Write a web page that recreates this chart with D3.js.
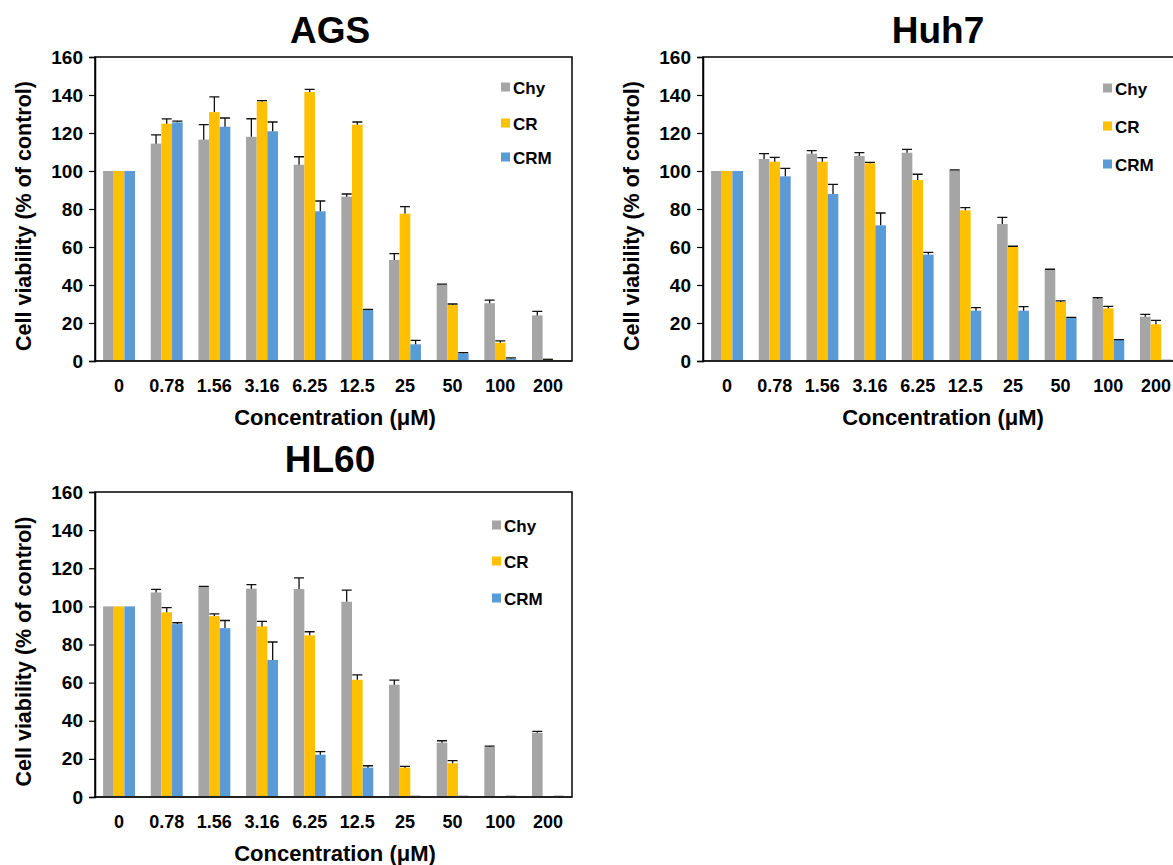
<!DOCTYPE html>
<meta charset="utf-8">
<style>
body { margin: 0; background: #fff; }
text { font-family: "Liberation Sans", Arial, sans-serif; font-weight: bold; fill: #000; }
</style>
<svg id="fig" width="1173" height="865"></svg>
<script src="https://cdnjs.cloudflare.com/ajax/libs/d3/7.8.5/d3.min.js"></script>
<script>

var concentrations = ["0","0.78","1.56","3.16","6.25","12.5","25","50","100","200"];
var seriesNames = ["Chy","CR","CRM"];
var seriesColors = ["#A5A5A5","#FFC000","#5B9BD5"];
var yTicks = [0,20,40,60,80,100,120,140,160];

// AGS
var agsChy    = [100,114.4,116.5,118,103.3,86.5,53.2,40.2,30.4,24];
var agsChyErr = [0,4.6,7.9,9.5,4.2,1.4,3.3,0.3,1.6,2.1];
var agsCR     = [100,124.9,131,136.5,141.6,124.4,77.5,29.5,9.6,0.9];
var agsCRErr  = [0,2.5,8,0.5,1.4,1.4,3.7,0.5,1,0];
var agsCRM    = [100,125.6,123.3,120.9,78.8,27,8.8,4,1.2,0];
var agsCRMErr = [0,0.7,4.6,4.9,5.4,0.2,2.1,0.4,0.4,0];

// Huh7
var huhChy    = [100,106.3,109.1,107.9,109.6,100.4,72.1,48.1,32.6,23.3];
var huhChyErr = [0,2.8,1.6,1.8,1.8,0.2,3.5,0.2,0.7,1.2];
var huhCR     = [100,104.9,104.9,104,95.3,79.3,60,31.1,27.7,19.3];
var huhCRErr  = [0,2.3,2.1,0.5,3,1.4,0.4,0.5,1,2.1];
var huhCRM    = [100,97.2,87.9,71.4,56,26.5,26.5,22.8,11.1,0.3];
var huhCRMErr = [0,4.2,5.1,6.5,1.2,1.6,2.1,0.2,0.2,0];

// HL60
var hlChy    = [100,107.3,110.3,109.3,109.1,102.4,58.9,28.5,26.2,33.7];
var hlChyErr = [0,1.6,0.2,2.1,5.9,6.1,2.4,1,0.5,0.7];
var hlCR     = [100,96.9,94.9,89.5,84.8,61.5,15.4,17.7,0,0];
var hlCRErr  = [0,2.4,1.2,2.6,1.9,2.6,0.7,1.4,0,0];
var hlCRM    = [100,90.7,88.6,71.9,22.2,15.4,0.3,0.3,0.3,0.3];
var hlCRMErr = [0,0.7,4,9.4,1.6,1,0,0,0,0];

var svg = d3.select("#fig");

var panels = [
  {title:"AGS",  x0:95,  y0:57,  w:477, h:304, titleY:43, legX:501, legY:[87,123,157],
   vals:[agsChy,agsCR,agsCRM], errs:[agsChyErr,agsCRErr,agsCRMErr]},
  {title:"Huh7", x0:703, y0:57,  w:477, h:304, titleY:43, legX:1103, legY:[88,126,164],
   vals:[huhChy,huhCR,huhCRM], errs:[huhChyErr,huhCRErr,huhCRMErr]},
  {title:"HL60", x0:95,  y0:492, w:477, h:305, titleY:472, legX:492, legY:[525,561,598],
   vals:[hlChy,hlCR,hlCRM], errs:[hlChyErr,hlCRErr,hlCRMErr]}
];

panels.forEach(function(p){
  var x = d3.scaleBand()
    .domain(concentrations)
    .range([p.x0, p.x0+p.w])
    .paddingInner(0.33)
    .paddingOuter(0.17);
  var xs = d3.scaleBand()
    .domain(seriesNames)
    .range([0, x.bandwidth()]);
  var y = d3.scaleLinear()
    .domain([0,160])
    .range([p.y0+p.h, p.y0]);

  var g = svg.append("g");

  // frame
  g.append("rect")
    .attr("x",p.x0).attr("y",p.y0)
    .attr("width",p.w).attr("height",p.h)
    .attr("fill","none").attr("stroke","#000").attr("stroke-width",1.5);

  // title
  g.append("text")
    .attr("x",p.x0+235).attr("y",p.titleY)
    .attr("text-anchor","middle")
    .style("font-size","37px")
    .text(p.title);

  // bars + error bars
  seriesNames.forEach(function(s,si){
    var rows = concentrations.map(function(c,i){
      return {c:c, v:p.vals[si][i], e:p.errs[si][i]};
    });
    g.selectAll(".bar"+si)
      .data(rows)
      .enter().append("rect")
      .attr("x",function(d){ return x(d.c)+xs(s); })
      .attr("y",function(d){ return y(d.v); })
      .attr("width",xs.bandwidth())
      .attr("height",function(d){ return y(0)-y(d.v); })
      .attr("fill",seriesColors[si]);

    var eb = rows.filter(function(d,i){ return i>0; });
    g.selectAll(".err"+si)
      .data(eb)
      .enter().append("path")
      .attr("d",function(d){
        var cx = x(d.c)+xs(s)+xs.bandwidth()/2;
        var y1 = y(d.v), y2 = y(d.v+d.e);
        return "M"+cx+","+y1+" L"+cx+","+y2+" M"+(cx-5)+","+y2+" L"+(cx+5)+","+y2;
      })
      .attr("fill","none").attr("stroke","#111").attr("stroke-width",1.3);
  });

  // bottom axis line
  g.append("line")
    .attr("x1",p.x0).attr("x2",p.x0+p.w)
    .attr("y1",y(0)).attr("y2",y(0))
    .attr("stroke","#222").attr("stroke-width",2);

  // y axis
  var ya = g.append("g")
    .attr("transform","translate("+p.x0+",0)")
    .call(d3.axisLeft(y).tickValues(yTicks).tickSize(6).tickPadding(6));
  ya.select(".domain").attr("stroke","#000").attr("stroke-width",1.5);
  ya.selectAll(".tick line").attr("stroke","#000").attr("stroke-width",1.2);
  ya.selectAll(".tick text").style("font-size","19px").style("font-family","'Liberation Sans', Arial, sans-serif");

  // x tick labels
  g.selectAll(".xl")
    .data(concentrations)
    .enter().append("text")
    .attr("x",function(d){ return x(d)+x.bandwidth()/2; })
    .attr("y",y(0)+31)
    .attr("text-anchor","middle")
    .style("font-size","18px")
    .text(function(d){ return d; });

  // axis titles
  g.append("text")
    .attr("x",p.x0+240).attr("y",y(0)+64)
    .attr("text-anchor","middle")
    .style("font-size","22px")
    .text("Concentration (\u03BCM)");
  g.append("text")
    .attr("transform","translate("+(p.x0-64)+","+(p.y0+p.h/2+7)+") rotate(-90)")
    .attr("text-anchor","middle")
    .style("font-size","21.5px")
    .text("Cell viability (% of control)");

  // legend
  seriesNames.forEach(function(s,si){
    g.append("rect")
      .attr("x",p.legX).attr("y",p.legY[si]-4.5)
      .attr("width",9).attr("height",9)
      .attr("fill",seriesColors[si]);
    g.append("text")
      .attr("x",p.legX+12).attr("y",p.legY[si]+7)
      .style("font-size","17px")
      .text(s);
  });
});
</script>
